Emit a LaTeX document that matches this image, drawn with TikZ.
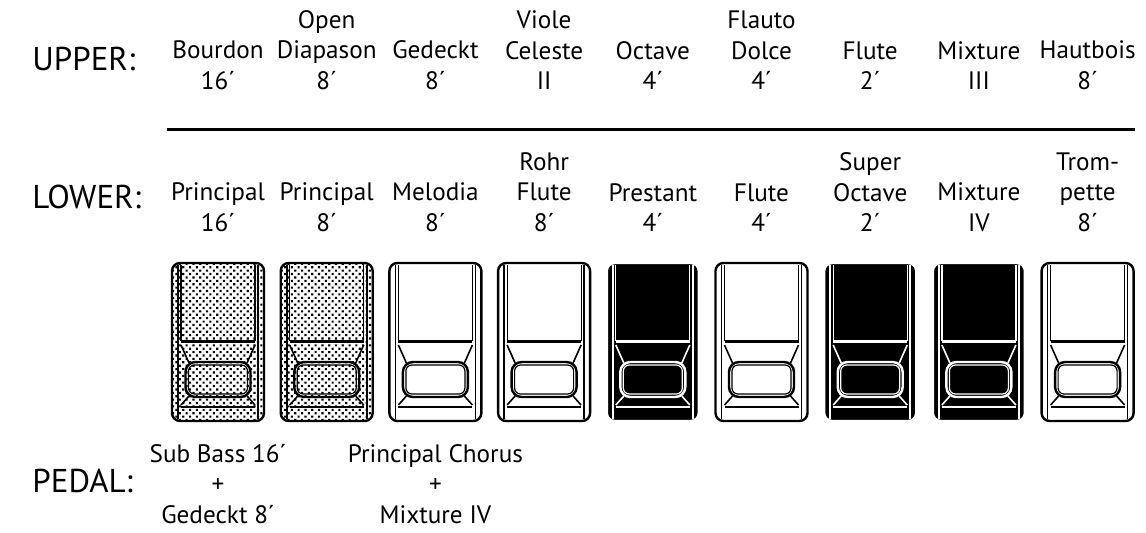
\documentclass[tikz,border=0pt]{standalone}
\usepackage{fontspec}
\setmainfont{PT Sans}
\usepackage{tikz}
\usetikzlibrary{patterns.meta}

\begin{document}
\begin{tikzpicture}[x=0.5pt, y=-0.5pt,
    every node/.style={inner sep=0pt, align=center},
    stopname/.style={font=\fontsize{12.6}{15.25}\selectfont, anchor=south},
    manual/.style={font=\fontsize{16.5}{18}\selectfont, anchor=base west},
    tab dot/.style={tabfill/.style={fill=white, postaction={pattern={Dots[distance=2.4pt, radius=0.75pt, angle=45]}}}, tabline/.style={draw=black}},
    tab white/.style={tabfill/.style={fill=white}, tabline/.style={draw=black}},
    tab black/.style={tabfill/.style={fill=black}, tabline/.style={draw=white}}]
    \useasboundingbox (0,0) rectangle (1146,532);

    % manual names
    \node[manual] (upper) at (32,70) {UPPER:};
    \node[manual] (lower) at (32,208) {LOWER:};
    \node[manual] (pedal) at (32,492) {PEDAL:};

    % upper stops
    \foreach \t [count=\i from 0] in {{Bourdon\\16´}, {Open\\Diapason\\8´}, {Gedeckt\\8´},
        {Viole\\Celeste\\II}, {Octave\\4´}, {Flauto\\Dolce\\4´}, {Flute\\2´}, {Mixture\\III}, {Hautbois\\8´}}
        \node[stopname] (u\i) at (218+108.7*\i,90) {\t};

    \draw[line width=1.5pt] (167,129) -- (1135,129);

    % lower stops
    \foreach \t [count=\i from 0] in {{Principal\\16´}, {Principal\\8´}, {Melodia\\8´}, {Rohr\\Flute\\8´},
        {Prestant\\4´}, {Flute\\4´}, {Super\\Octave\\2´}, {Mixture\\IV}, {Trom-\\pette\\8´}}
        \node[stopname] (l\i) at (218+108.7*\i,232) {\t};

    % tabs
    \foreach \kind [count=\i from 0] in {dot,dot,white,white,black,white,black,black,white} {
        \begin{scope}[shift={(218+108.7*\i,0)}, tab \kind]
            \path[tabfill, rounded corners=4] (-46,263) rectangle (46,421);
            \draw[tabline, line width=1.2pt, rounded corners=4] (-46,263) rectangle (46,421);
            \draw[tabline, line width=0.8pt] (-40,265) -- (-40,419) (40,265) -- (40,419);
            \draw[tabline, line width=0.6pt] (-37,265) -- (-37,341) (37,265) -- (37,341);
            \draw[tabline, line width=1.5pt] (-37,341) -- (37,341);
            \draw[tabline, line width=0.8pt] (-37,345) -- (-29,363) (37,345) -- (29,363)
                (-29,396) -- (-37,405) (29,396) -- (37,405);
            \draw[tabline, line width=1.2pt, rounded corners=5] (-32.5,362) rectangle (32.5,397);
            \draw[tabline, line width=0.6pt, rounded corners=3] (-29.5,365) rectangle (29.5,394);
            \draw[tabline, line width=1pt] (-37,407) -- (37,407);
        \end{scope}
    }

    % pedal couplers
    \node[stopname] (p0) at (218,524) {Sub Bass 16´\\+\\Gedeckt 8´};
    \node[stopname] (p1) at (435.4,524) {Principal Chorus\\+\\Mixture IV};
\end{tikzpicture}
\end{document}
